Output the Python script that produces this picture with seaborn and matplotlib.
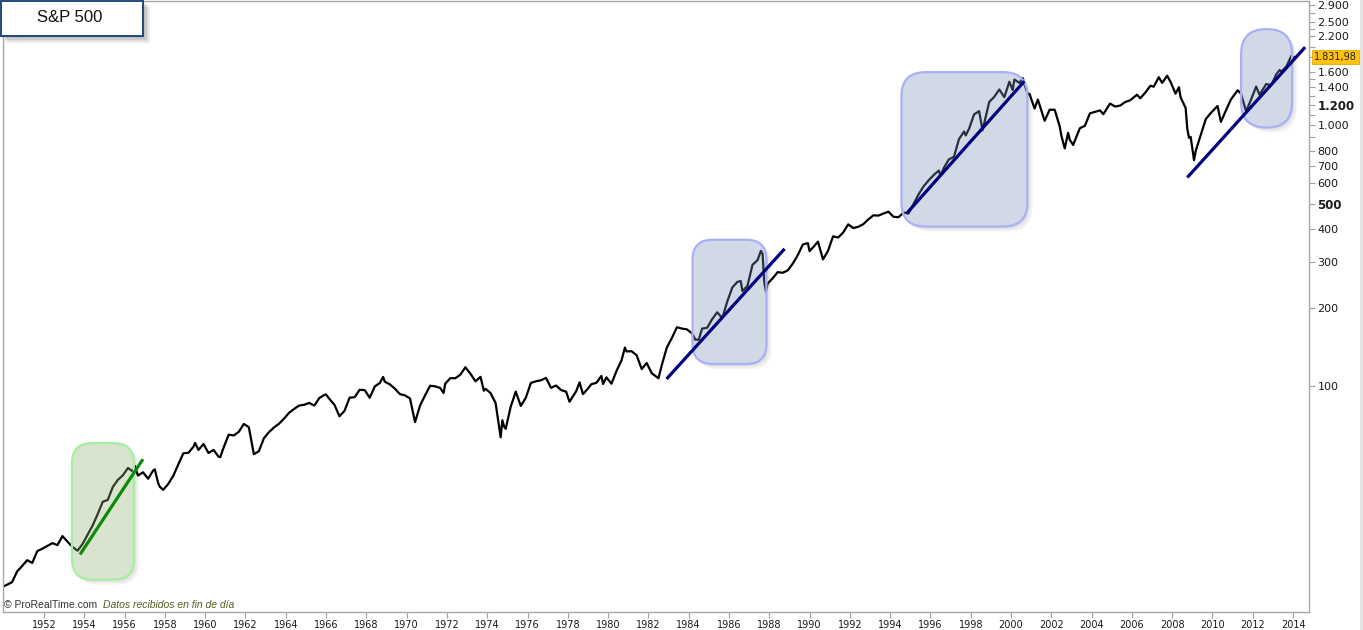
import matplotlib
matplotlib.use("Agg")
import matplotlib.pyplot as plt
import seaborn as sns
import pandas as pd
from matplotlib.patches import FancyBboxPatch, Rectangle
from matplotlib.transforms import IdentityTransform
from matplotlib.ticker import FixedLocator, FixedFormatter, NullFormatter

# ---------------- data (monthly closes) ----------------
dates = [
    "1950-01", "1950-03", "1950-06", "1950-09", "1950-12",
    "1951-03", "1951-06", "1951-09", "1951-12",
    "1952-03", "1952-06", "1952-09", "1952-12",
    "1953-03", "1953-06", "1953-09", "1953-12",
    "1954-03", "1954-06", "1954-09", "1954-12",
    "1955-03", "1955-06", "1955-09", "1955-12",
    "1956-03", "1956-06", "1956-07", "1956-09", "1956-12",
    "1957-03", "1957-06", "1957-07", "1957-09", "1957-10", "1957-12",
    "1958-03", "1958-06", "1958-09", "1958-12",
    "1959-03", "1959-06", "1959-07", "1959-09", "1959-12",
    "1960-03", "1960-06", "1960-09", "1960-10", "1960-12",
    "1961-03", "1961-06", "1961-09", "1961-12",
    "1962-03", "1962-06", "1962-09", "1962-12",
    "1963-03", "1963-06", "1963-09", "1963-12",
    "1964-03", "1964-06", "1964-09", "1964-12",
    "1965-03", "1965-06", "1965-09", "1965-12",
    "1966-01", "1966-03", "1966-06", "1966-09", "1966-12",
    "1967-03", "1967-06", "1967-09", "1967-12",
    "1968-03", "1968-06", "1968-09", "1968-11", "1968-12",
    "1969-03", "1969-06", "1969-09", "1969-12",
    "1970-03", "1970-06", "1970-09", "1970-12",
    "1971-03", "1971-06", "1971-09", "1971-11", "1971-12",
    "1972-03", "1972-06", "1972-09", "1972-12",
    "1973-03", "1973-06", "1973-09", "1973-11", "1973-12",
    "1974-03", "1974-06", "1974-09", "1974-10", "1974-11", "1974-12",
    "1975-03", "1975-06", "1975-09", "1975-12",
    "1976-03", "1976-06", "1976-09", "1976-12",
    "1977-03", "1977-06", "1977-09", "1977-12",
    "1978-02", "1978-06", "1978-08", "1978-10", "1978-12",
    "1979-03", "1979-06", "1979-09", "1979-10", "1979-12",
    "1980-03", "1980-06", "1980-09", "1980-11", "1980-12",
    "1981-03", "1981-06", "1981-09", "1981-12",
    "1982-03", "1982-07", "1982-09", "1982-12",
    "1983-03", "1983-06", "1983-09", "1983-12",
    "1984-03", "1984-05", "1984-07", "1984-09", "1984-12",
    "1985-03", "1985-06", "1985-09", "1985-12",
    "1986-03", "1986-06", "1986-08", "1986-09", "1986-12",
    "1987-03", "1987-06", "1987-08", "1987-09", "1987-10", "1987-11", "1987-12",
    "1988-03", "1988-06", "1988-09", "1988-12",
    "1989-03", "1989-06", "1989-09", "1989-12",
    "1990-01", "1990-03", "1990-06", "1990-09", "1990-12",
    "1991-03", "1991-06", "1991-09", "1991-12",
    "1992-03", "1992-06", "1992-09", "1992-12",
    "1993-03", "1993-06", "1993-09", "1993-12",
    "1994-03", "1994-06", "1994-09", "1994-12",
    "1995-03", "1995-06", "1995-09", "1995-12",
    "1996-03", "1996-06", "1996-07", "1996-09", "1996-12",
    "1997-03", "1997-06", "1997-09", "1997-10", "1997-12",
    "1998-03", "1998-06", "1998-08", "1998-09", "1998-12",
    "1999-03", "1999-06", "1999-09", "1999-12",
    "2000-02", "2000-03", "2000-06", "2000-08", "2000-09", "2000-11", "2000-12",
    "2001-03", "2001-05", "2001-09", "2001-12",
    "2002-03", "2002-06", "2002-07", "2002-09", "2002-11", "2002-12",
    "2003-02", "2003-06", "2003-09", "2003-12",
    "2004-03", "2004-06", "2004-08", "2004-12",
    "2005-03", "2005-06", "2005-09", "2005-12",
    "2006-04", "2006-06", "2006-09", "2006-12",
    "2007-02", "2007-05", "2007-07", "2007-10", "2007-12",
    "2008-03", "2008-05", "2008-06", "2008-09", "2008-10", "2008-11", "2008-12",
    "2009-02", "2009-03", "2009-06", "2009-09", "2009-12",
    "2010-04", "2010-06", "2010-09", "2010-12",
    "2011-04", "2011-06", "2011-09", "2011-12",
    "2012-03", "2012-05", "2012-09", "2012-12",
    "2013-03", "2013-05", "2013-06", "2013-09", "2013-12",
    "2014-01", "2014-02",
]
closes = [
    17.05, 17.29, 17.69, 19.45, 20.41,
    21.48, 20.96, 23.26, 23.77,
    24.37, 24.96, 24.54, 26.57,
    25.29, 24.14, 23.35, 24.81,
    26.94, 29.21, 32.31, 35.98,
    36.58, 41.03, 43.67, 45.48,
    48.48, 46.97, 49.39, 45.35, 46.67,
    44.11, 47.37, 47.91, 42.42, 41.06, 39.99,
    42.10, 45.24, 50.06, 55.21,
    55.44, 58.47, 60.51, 56.88, 59.89,
    55.34, 56.92, 53.52, 53.39, 58.11,
    65.06, 64.64, 66.73, 71.55,
    69.55, 54.75, 56.27, 63.10,
    66.57, 69.37, 71.70, 75.02,
    78.98, 81.69, 84.18, 84.75,
    86.16, 84.12, 89.96, 92.43,
    92.88, 89.23, 84.74, 76.56, 80.33,
    90.20, 90.64, 96.71, 96.47,
    90.20, 99.58, 102.67, 108.37, 103.86,
    101.51, 97.71, 93.12, 92.06,
    89.63, 72.72, 84.21, 92.15,
    100.31, 99.70, 98.34, 93.99, 102.09,
    107.20, 107.14, 110.55, 118.05,
    111.52, 104.26, 108.43, 95.96, 97.55,
    93.98, 86.00, 63.54, 73.90, 69.97, 68.56,
    83.36, 95.19, 83.87, 90.19,
    102.77, 104.28, 105.24, 107.46,
    98.42, 100.48, 96.53, 95.10,
    87.04, 95.53, 103.29, 93.15, 96.11,
    101.59, 102.91, 109.32, 101.82, 107.94,
    102.09, 114.24, 125.46, 140.52, 135.76,
    136.00, 131.21, 116.18, 122.55,
    111.96, 107.09, 120.42, 140.64,
    152.96, 168.11, 166.07, 164.93,
    159.18, 150.55, 150.66, 166.10, 167.24,
    180.66, 191.85, 182.08, 211.28,
    238.90, 250.84, 252.93, 231.32, 242.17,
    291.70, 304.00, 329.80, 321.83, 251.79, 230.30, 247.08,
    258.89, 273.50, 271.91, 277.72,
    294.87, 317.98, 349.15, 353.40,
    329.08, 339.94, 358.02, 306.05, 330.22,
    375.22, 371.16, 387.86, 417.09,
    403.69, 408.14, 417.80, 435.71,
    451.67, 450.53, 458.93, 466.45,
    445.77, 444.27, 462.69, 459.27,
    500.71, 544.75, 584.41, 615.93,
    645.50, 670.63, 639.95, 687.33, 740.74,
    757.12, 885.14, 947.28, 914.62, 970.43,
    1101.75, 1133.84, 957.28, 1017.01, 1229.23,
    1286.37, 1372.71, 1282.71, 1469.25,
    1366.42, 1498.58, 1454.60, 1517.68, 1436.51, 1315.23, 1320.28,
    1160.33, 1255.82, 1040.94, 1148.08,
    1147.39, 989.82, 911.62, 815.28, 936.31, 879.82,
    841.15, 974.50, 995.97, 1111.92,
    1126.21, 1140.84, 1104.24, 1211.92,
    1180.59, 1191.33, 1228.81, 1248.29,
    1310.61, 1270.20, 1335.85, 1418.30,
    1406.82, 1530.62, 1455.27, 1549.38, 1468.36,
    1322.70, 1400.38, 1280.00, 1166.36, 968.75, 896.24, 903.25,
    735.09, 797.87, 919.32, 1057.08, 1115.10,
    1186.69, 1030.71, 1141.20, 1257.64,
    1363.61, 1320.64, 1131.42, 1257.60,
    1408.47, 1310.33, 1440.67, 1426.19,
    1569.19, 1630.74, 1606.28, 1681.55, 1848.36,
    1782.59, 1831.98,
]
last_close = 1831.98
tick_years = list(range(1952, 2015, 2))
major_levels = [100, 200, 300, 400, 500, 600, 700, 800, 1000, 1200, 1400, 1600, 2200, 2500, 2900]
bold_levels = [500, 1200]
minor_levels = [900, 1100, 1300, 1500, 1831.98, 2000, 2350, 2700]

# trend lines: (x0, y0, x1, y1, colour)
trend_lines = [
    (1953.79, 22.6, 1956.91, 52.4, "#0a8a0a"),
    (1982.90, 106.4, 1988.76, 336.0, "#000080"),
    (1994.81, 458.6, 2000.66, 1476.0, "#000080"),
    (2008.75, 631.0, 2014.60, 1995.0, "#000080"),
]
# highlight boxes: (x0, x1, y0, y1, kind, corner radius px)
boxes = [
    (1953.39, 1956.46, 18.1, 60.4, "green", 20),
    (1984.19, 1987.86, 121.5, 364.0, "blue", 20),
    (1994.56, 2000.81, 409.0, 1600.0, "blue", 24),
    (2011.42, 2013.95, 981.0, 2339.0, "blue", 25),
]

def fmt_es(v):
    return f"{v:,.0f}".replace(",", ".")

df = pd.DataFrame({"date": dates, "close": closes})
yr = df["date"].str.slice(0, 4).astype(int)
mo = df["date"].str.slice(5, 7).astype(int)
df["t"] = yr + (mo - 1) / 12.0

# ---------------- figure ----------------
W, H = 1363, 630
sns.set_theme(style="white")
plt.rcParams["font.family"] = ["DejaVu Sans"]
fig = plt.figure(figsize=(W / 100, H / 100), dpi=100)
fig.patch.set_facecolor("white")
ax = fig.add_axes([3 / W, 18 / H, 1306 / W, 611 / H])

sns.lineplot(data=df, x="t", y="close", ax=ax, color="black", lw=1.6,
             estimator=None, sort=False, zorder=2)
ax.set_yscale("log")
ax.set_xlim(1949.965, 2014.79)
ax.set_ylim(13.59, 2999)
ax.set_xlabel("")
ax.set_ylabel("")

# axes styling
for s in ax.spines.values():
    s.set_color("#a8a8a8")
    s.set_linewidth(1.0)
ax.yaxis.tick_right()
ax.yaxis.set_major_locator(FixedLocator(major_levels))
ax.yaxis.set_major_formatter(FixedFormatter([fmt_es(v) for v in major_levels]))
ax.yaxis.set_minor_locator(FixedLocator(minor_levels))
ax.yaxis.set_minor_formatter(NullFormatter())
ax.tick_params(axis="y", which="both", right=True, left=False, direction="out",
               length=4, width=0.8, color="#a0a0a0", labelsize=8, pad=2,
               labelcolor="#1a1a1a")
ax.set_xticks(tick_years)
ax.set_xticklabels([str(y) for y in tick_years])
ax.tick_params(axis="x", which="both", bottom=True, direction="out", length=4,
               width=0.8, color="#a0a0a0", labelsize=7, pad=2, labelcolor="#1a1a1a")
ax.xaxis.set_minor_locator(FixedLocator([]))
for lbl, v in zip(ax.get_yticklabels(), major_levels):
    if v in bold_levels:
        lbl.set_fontweight("bold")
        lbl.set_fontsize(8.5)
ax.grid(False)

# last value marker on the price scale
ax.annotate(f"{last_close:,.2f}".replace(",", " ").replace(".", ",").replace(" ", "."),
            xy=(1, last_close), xycoords=("axes fraction", "data"),
            xytext=(3.5, 0), textcoords="offset points", ha="left", va="center",
            fontsize=7, color="#222222", annotation_clip=False,
            bbox=dict(boxstyle="square,pad=0.2", fc="#ffc20e", ec="#e0a800", lw=0.6))

# highlight boxes (drawn in pixel space so corners stay round on the log axis)
fig.canvas.draw()
styles = {
    "green": dict(fc=(0.57, 0.69, 0.46, 0.34), ec="#a6eea0"),
    "blue": dict(fc=(0.47, 0.56, 0.72, 0.34), ec="#aab0f6"),
}
for x0, x1, y0, y1, kind, r in boxes:
    (px0, py0) = ax.transData.transform((x0, y0))
    (px1, py1) = ax.transData.transform((x1, y1))
    w, h = px1 - px0, py1 - py0
    bs = f"round,pad=0,rounding_size={r}"
    for k in range(3):
        off = 2 + 1.5 * k
        ax.add_patch(FancyBboxPatch((px0 + off, py0 - off), w, h, boxstyle=bs,
                                    transform=IdentityTransform(),
                                    fc=(0.3, 0.3, 0.3, 0.06), ec="none", zorder=1.2))
    # white base hides the shadow inside the box, under the price line
    ax.add_patch(FancyBboxPatch((px0, py0), w, h, boxstyle=bs,
                                transform=IdentityTransform(), fc="white",
                                ec="none", zorder=1.5))
    ax.add_patch(FancyBboxPatch((px0, py0), w, h, boxstyle=bs,
                                transform=IdentityTransform(), fc=styles[kind]["fc"],
                                ec=styles[kind]["ec"], lw=1.6, zorder=3))

for x0, y0, x1, y1, c in trend_lines:
    ax.plot([x0, x1], [y0, y1], color=c, lw=2.3, solid_capstyle="butt", zorder=4)

# title box top-left
for k in range(4):
    off = 2 + 1.5 * k
    fig.add_artist(Rectangle((0 + off, H - 36 - off), 143, 36, transform=IdentityTransform(),
                             fc=(0.2, 0.2, 0.2, 0.09), ec="none", zorder=9))
fig.add_artist(Rectangle((0.5, H - 36), 142.5, 35.5, transform=IdentityTransform(),
                         fc="white", ec="#1f4a7a", lw=1.4, zorder=10))
fig.text(70 / W, (H - 18) / H, "S&P 500", ha="center", va="center",
         fontsize=12, family=["Liberation Sans", "DejaVu Sans"], color="#111111", zorder=11)

# footer texts
fig.text(4 / W, (H - 605) / H, "© ProRealTime.com", ha="left", va="center",
         fontsize=7.5, family=["Liberation Sans", "DejaVu Sans"], color="#333333")
fig.text(103 / W, (H - 605) / H, "Datos recibidos en fin de día", ha="left", va="center",
         fontsize=7.5, style="italic", family=["Liberation Sans", "DejaVu Sans"],
         color="#4f5f1f")

# light strip at the right edge
fig.add_artist(Rectangle((1360, 0), 3, H, transform=IdentityTransform(),
                         fc="#e4e4e4", ec="none", zorder=1))

fig.savefig("out.png", dpi=100, facecolor="white")
